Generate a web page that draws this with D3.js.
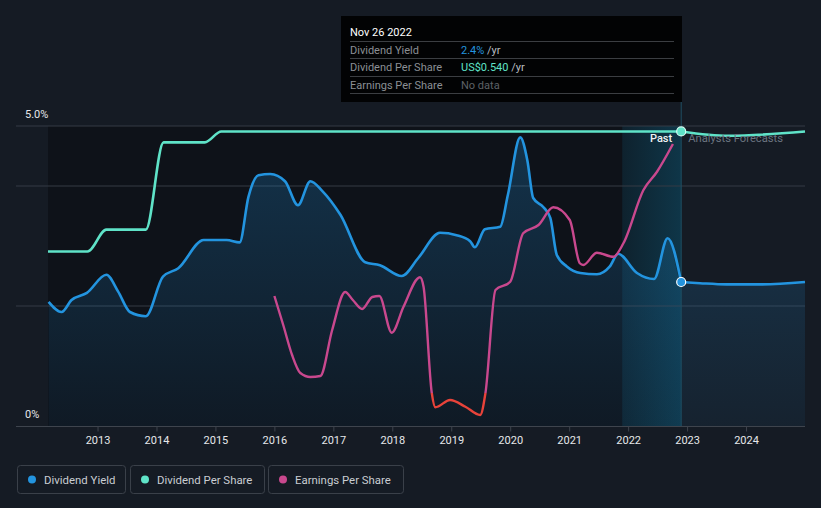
<!DOCTYPE html>
<html><head><meta charset="utf-8">
<script src="https://cdn.jsdelivr.net/npm/d3@7"></script>
<style>
html,body{margin:0;padding:0;background:#151b24;}
svg{display:block;font-family:Roboto,"Noto Sans",sans-serif;}
</style></head>
<body>
<svg id="chart" width="821" height="508"></svg>
<script>
// ---- data ----
const yieldYears  = [2012.17,2012.39,2012.56,2012.82,2013.15,2013.35,2013.55,2013.82,2014.11,2014.37,2014.80,2015.19,2015.41,2015.56,2015.73,2015.93,2016.18,2016.40,2016.61,2016.81,2017.12,2017.54,2017.79,2018.16,2018.44,2018.81,2019.09,2019.32,2019.40,2019.57,2019.83,2019.96,2020.17,2020.29,2020.39,2020.56,2020.68,2020.79,2020.96,2021.19,2021.47,2021.69,2021.83,2022.15,2022.44,2022.67,2022.90];
const yieldValues = [2.07,1.90,2.10,2.22,2.52,2.24,1.90,1.83,2.49,2.63,3.10,3.10,3.06,3.82,4.18,4.20,4.08,3.68,4.08,3.92,3.52,2.73,2.68,2.50,2.80,3.22,3.18,3.08,2.98,3.28,3.32,3.85,4.81,4.43,3.80,3.65,3.47,2.85,2.66,2.55,2.53,2.66,2.87,2.55,2.45,3.13,2.40];
const yieldFcYears  = [2022.90,2023.22,2023.67,2024.24,2025.00];
const yieldFcValues = [2.40,2.38,2.36,2.36,2.40];

const dpsYears  = [2012.16,2012.83,2013.15,2013.82,2014.12,2014.82,2015.10,2022.90];
const dpsValues = [0.32,0.32,0.36,0.36,0.52,0.52,0.54,0.54];
const dpsFcYears  = [2022.90,2023.70,2025.00];
const dpsFcValues = [0.54,0.532,0.54];

const epsYears  = [2016.00,2016.15,2016.30,2016.44,2016.61,2016.78,2016.98,2017.20,2017.33,2017.49,2017.66,2017.78,2017.99,2018.19,2018.47,2018.53,2018.67,2018.73,2018.98,2019.24,2019.49,2019.58,2019.75,2020.00,2020.22,2020.48,2020.73,2021.01,2021.18,2021.24,2021.47,2021.75,2021.92,2022.26,2022.49,2022.76];
const epsValues = [0.388,0.272,0.152,0.080,0.064,0.068,0.252,0.404,0.372,0.336,0.384,0.388,0.241,0.345,0.463,0.425,-0.001,-0.057,-0.028,-0.055,-0.088,0.000,0.412,0.445,0.639,0.672,0.743,0.692,0.519,0.512,0.561,0.545,0.599,0.812,0.885,0.996];

const xTickYears = [2013,2014,2015,2016,2017,2018,2019,2020,2021,2022,2023,2024];
const yTickLabels = ["0%","5.0%"];
const gridValues = [2,4,5];
const nowYear = 2022.90;
const lastYearStart = 2021.90;

const legendItems = ["Dividend Yield","Dividend Per Share","Earnings Per Share"];
const tooltipRows = [
  {label:"Dividend Yield", value:"2.4%", unit:" /yr"},
  {label:"Dividend Per Share", value:"US$0.540", unit:" /yr"},
  {label:"Earnings Per Share", value:"No data", unit:""}
];
const tooltipDate = "Nov 26 2022";

// ---- styles ----
const C = {bg:"#151b24", past:"#0e1219", grid:"#353b44", axis:"#3e444d",
  yield:"#2394df", dps:"#5fe3c8", eps:"#c9488e", epsNeg:"#e8433a",
  text:"#e6e8ea", sub:"#8a9099"};
const legendColors = [C.yield, C.dps, C.eps];
const valueColors = [C.yield, C.dps, "#5d6166"];

const svg = d3.select("#chart");
const x = d3.scaleLinear().domain([2012.16, 2025.0]).range([48, 805]);
const yY = d3.scaleLinear().domain([0,5]).range([426,126]);
const yD = d3.scaleLinear().domain([0,0.55]).range([426,126]);
const yE = d3.scaleLinear().domain([0,1]).range([393,143]);

const defs = svg.append("defs");
const ag = defs.append("linearGradient").attr("id","areaG")
  .attr("gradientUnits","userSpaceOnUse").attr("y1",126).attr("y2",426).attr("x1",0).attr("x2",0);
ag.append("stop").attr("offset","0").attr("stop-color",C.yield).attr("stop-opacity",0.26);
ag.append("stop").attr("offset","1").attr("stop-color",C.yield).attr("stop-opacity",0.06);
const tg = defs.append("linearGradient").attr("id","tealG").attr("x1",0).attr("y1",0).attr("x2",1).attr("y2",0);
tg.append("stop").attr("offset","0").attr("stop-color","#0f5a78").attr("stop-opacity",0.22);
tg.append("stop").attr("offset","1").attr("stop-color","#0f5a78").attr("stop-opacity",0.5);
defs.append("clipPath").attr("id","posClip").append("rect").attr("x",0).attr("y",0).attr("width",821).attr("height",yE(0));
defs.append("clipPath").attr("id","negClip").append("rect").attr("x",0).attr("y",yE(0)).attr("width",821).attr("height",200);

svg.append("rect").attr("width",821).attr("height",508).attr("fill",C.bg);
// past region
svg.append("rect").attr("x",x.range()[0]).attr("y",yY(5)).attr("width",x(nowYear)-x.range()[0]).attr("height",yY(0)-yY(5)).attr("fill",C.past);
svg.append("rect").attr("x",x(lastYearStart)).attr("y",yY(5)).attr("width",x(nowYear)-x(lastYearStart)).attr("height",yY(0)-yY(5)).attr("fill","url(#tealG)");

// grid
svg.append("g").selectAll("line").data(gridValues).join("line")
  .attr("x1",16).attr("x2",805).attr("y1",d=>yY(d)).attr("y2",d=>yY(d))
  .attr("stroke",C.grid).attr("stroke-width",1);

// area
const yieldAll = yieldYears.map((t,i)=>[t,yieldValues[i]]).concat(yieldFcYears.slice(1).map((t,i)=>[t,yieldFcValues[i+1]]));
const area = d3.area().x(d=>x(d[0])).y0(yY(0)).y1(d=>yY(d[1])).curve(d3.curveMonotoneX);
svg.append("path").datum(yieldAll).attr("d",area).attr("fill","url(#areaG)");

// hover line
svg.append("line").attr("x1",x(nowYear)).attr("x2",x(nowYear)).attr("y1",101).attr("y2",426)
  .attr("stroke","#1f4f63").attr("stroke-width",1);

const line = (ys)=>d3.line().x(d=>x(d[0])).y(d=>ys(d[1])).curve(d3.curveMonotoneX);
const pairs = (a,b)=>a.map((t,i)=>[t,b[i]]);

// DPS
svg.append("path").datum(pairs(dpsYears,dpsValues)).attr("d",line(yD)).attr("fill","none").attr("stroke",C.dps).attr("stroke-width",2.6);
svg.append("path").datum(pairs(dpsFcYears,dpsFcValues)).attr("d",line(yD)).attr("fill","none").attr("stroke",C.dps).attr("stroke-width",2.6);
// Yield
svg.append("path").datum(pairs(yieldYears,yieldValues)).attr("d",line(yY)).attr("fill","none").attr("stroke",C.yield).attr("stroke-width",2.6);
svg.append("path").datum(pairs(yieldFcYears,yieldFcValues)).attr("d",line(yY)).attr("fill","none").attr("stroke",C.yield).attr("stroke-width",2.6);
// EPS
const epsD = pairs(epsYears,epsValues);
svg.append("path").datum(epsD).attr("d",line(yE)).attr("fill","none").attr("stroke",C.eps).attr("stroke-width",2.4).attr("clip-path","url(#posClip)");
svg.append("path").datum(epsD).attr("d",line(yE)).attr("fill","none").attr("stroke",C.epsNeg).attr("stroke-width",2.4).attr("clip-path","url(#negClip)");

// Past / forecast labels
svg.append("text").attr("x",x(nowYear)-9).attr("y",142).attr("text-anchor","end").attr("font-size",11).attr("font-weight",500).attr("fill","#f0f2f4").text("Past");
svg.append("text").attr("x",x(nowYear)+7).attr("y",142).attr("font-size",11.2).attr("fill","#6b7480").text("Analysts Forecasts");

// dots
svg.append("circle").attr("cx",x(nowYear)).attr("cy",yD(0.54)).attr("r",4.5).attr("fill",C.dps).attr("stroke","#d8fff5").attr("stroke-width",1.2);
svg.append("circle").attr("cx",x(nowYear)).attr("cy",yY(2.40)).attr("r",4.5).attr("fill",C.yield).attr("stroke","#ffffff").attr("stroke-width",1.2);

// y labels
svg.append("text").attr("x",25).attr("y",yY(5)-8).attr("font-size",11).attr("fill",C.text).text(yTickLabels[1]);
svg.append("text").attr("x",25).attr("y",yY(0)-8).attr("font-size",11).attr("fill",C.text).text(yTickLabels[0]);

// x axis
svg.append("line").attr("x1",16).attr("x2",805).attr("y1",426.5).attr("y2",426.5).attr("stroke",C.axis);
const xa = svg.append("g").attr("transform","translate(0,426.5)")
  .call(d3.axisBottom(x).tickValues(xTickYears).tickFormat(d3.format("d")).tickSize(5).tickPadding(5));
xa.select(".domain").remove();
xa.selectAll(".tick line").attr("stroke",C.axis);
xa.selectAll(".tick text").attr("fill",C.text).attr("font-size",11).attr("font-family","Roboto,sans-serif");

// tooltip
const tt = svg.append("g");
tt.append("rect").attr("x",341).attr("y",16).attr("width",341).attr("height",86).attr("fill","#020304");
tt.append("text").attr("x",350).attr("y",36).attr("font-size",11).attr("fill","#ffffff").text(tooltipDate);
const rowY = [41,58,76,93];
tt.selectAll("line.sep").data(rowY).join("line").attr("class","sep")
  .attr("x1",350).attr("x2",674).attr("y1",d=>d+0.5).attr("y2",d=>d+0.5).attr("stroke","#3b3e42");
tooltipRows.forEach((r,i)=>{
  const by = rowY[i]+12.5;
  tt.append("text").attr("x",350).attr("y",by).attr("font-size",11).attr("fill","#8b8f94").text(r.label);
  const t = tt.append("text").attr("x",461).attr("y",by).attr("font-size",11);
  t.append("tspan").attr("fill",valueColors[i]).text(r.value);
  t.append("tspan").attr("fill","#b8bcc0").text(r.unit);
});

// legend
const lx = [17,130,268], lw = [108,134,135];
const lg = svg.append("g");
legendItems.forEach((name,i)=>{
  const g = lg.append("g").attr("transform",`translate(${lx[i]},465)`);
  g.append("rect").attr("x",0.5).attr("y",0.5).attr("width",lw[i]).attr("height",28).attr("rx",3)
    .attr("fill","none").attr("stroke","#3a4049");
  g.append("circle").attr("cx",15).attr("cy",14.5).attr("r",4).attr("fill",legendColors[i]);
  g.append("text").attr("x",27).attr("y",18.5).attr("font-size",11.4).attr("fill","#c9cdd2").text(name);
});
</script>
</body></html>
